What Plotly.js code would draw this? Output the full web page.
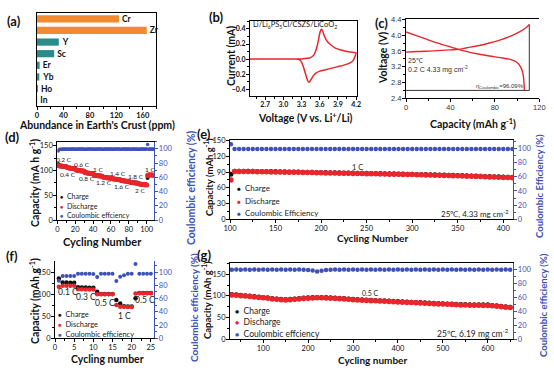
<!DOCTYPE html>
<html><head><meta charset="utf-8">
<script src="https://cdn.plot.ly/plotly-3.0.1.min.js"></script>
<style>html,body{margin:0;padding:0;background:#fff}#chart{width:554px;height:371px}</style>
</head><body><div id="chart"></div>
<script>
// ---------- (a) abundance ----------
const elements = ['Cr','Zr','Y','Sc','Er','Yb','Ho','In'];
const abundance = [124, 166, 33, 26, 4, 3.5, 1.4, 0.3];
const elementGroup = ['o','o','t','t','t','t','t','t'];

// ---------- (b) CV ----------
const cvVoltage = [2.45,2.8,3.1,3.3,3.4,3.45,3.5,3.53,3.56,3.59,3.61,3.63,3.65,3.68,3.72,3.78,3.85,3.95,4.05,4.15,
  4.2,4.18,4.15,4.1,4.0,3.9,3.8,3.7,3.6,3.53,3.48,3.45,3.43,3.41,3.39,3.36,3.33,3.3,3.27,3.2,2.8,2.45];
const cvCurrent = [0,0,0,0.003,0.01,0.02,0.05,0.1,0.18,0.3,0.37,0.4,0.37,0.3,0.24,0.19,0.15,0.12,0.1,0.09,
  0.085,0.03,-0.02,-0.05,-0.08,-0.1,-0.12,-0.14,-0.16,-0.19,-0.24,-0.28,-0.305,-0.3,-0.26,-0.18,-0.1,-0.04,-0.01,0,0,0];

// ---------- (c) charge / discharge ----------
const chgCapC = [0,10,25,40,47,55,65,75,85,92,100,105,108.5,111];
const chgVoltC = [3.57,3.585,3.6,3.625,3.64,3.68,3.73,3.8,3.88,3.95,4.05,4.13,4.2,4.27];
const disCapC = [0,10,25,40,47,55,65,75,85,93,98,101,103,104.8,105.8,106.3,106.6];
const disVoltC = [4.08,3.98,3.83,3.7,3.64,3.58,3.52,3.47,3.43,3.39,3.34,3.28,3.2,3.08,2.93,2.76,2.6];
const cutoffCap = [0,111,111];
const cutoffVolt = [2.6,2.6,4.27];

// ---------- (d) rate test ----------
const rateCharge = [113,110.5,110,109.5,109.5,109,109,108.5,108.5,108,
  107,106,105.5,105.5,105,105,104.5,104.5,104.5,104,
  102,101,100.5,100.5,100,100,99.5,99.5,99.5,99,
  97,96,95.5,95.5,95,95,94.5,94.5,94.5,94,
  92,91,90.5,90.5,90,90,89.5,89.5,89.5,89,
  88,87,86.5,86.5,86,86,85.5,85.5,85.5,85,
  84.5,83.5,83,83,82.5,82.5,82,82,82,81.5,
  81,80,79.5,79.5,79,79,78.5,78.5,78.5,78,
  77.5,76.5,76,76,75.5,75.5,75,75,75,74.5,
  74,73,72.5,72.5,72,72,71.5,71.5,71.5,71,
  85,91.5,91.5,91.5,91.5,91.5,91,91];
const rateDischarge = [110,109.5,109,109,108.5,108.5,108,108,108,107.5,
  106,105.5,105,105,104.5,104.5,104,104,104,103.5,
  101,100.5,100,100,99.5,99.5,99,99,99,98.5,
  96,95.5,95,95,94.5,94.5,94,94,94,93.5,
  91,90.5,90,90,89.5,89.5,89,89,89,88.5,
  87,86.5,86,86,85.5,85.5,85,85,85,84.5,
  83.5,83,82.5,82.5,82,82,81.5,81.5,81.5,81,
  80,79.5,79,79,78.5,78.5,78,78,78,77.5,
  76.5,76,75.5,75.5,75,75,74.5,74.5,74.5,74,
  73,72.5,72,72,71.5,71.5,71,71,71,70.5,
  90,91,91,91,91,91,90.5,90.5];
const rateCE = [97,99.2,99.4,99.5,99.5,99.6,99.5,99.6,99.5,99.6,
  99.3,99.5,99.6,99.5,99.6,99.5,99.6,99.6,99.5,99.6,
  99.3,99.5,99.6,99.5,99.6,99.6,99.5,99.6,99.6,99.5,
  99.3,99.5,99.5,99.6,99.6,99.5,99.6,99.6,99.5,99.6,
  99.3,99.5,99.6,99.5,99.6,99.6,99.5,99.6,99.6,99.5,
  99.3,99.5,99.6,99.6,99.5,99.6,99.6,99.5,99.6,99.6,
  99.3,99.5,99.6,99.5,99.6,99.6,99.5,99.6,99.6,99.5,
  99.3,99.5,99.6,99.6,99.5,99.6,99.6,99.5,99.6,99.6,
  99.3,99.5,99.6,99.5,99.6,99.6,99.5,99.6,99.6,99.5,
  99.3,99.5,99.6,99.6,99.5,99.6,99.6,99.5,99.6,99.6,
  106,99.5,99.6,99.6,99.5,99.6,99.6,99.5];
const rateLabels = ['0.2 C','0.4 C','0.6 C','0.8 C','1 C','1.2 C','1.4 C','1.6 C','1.8 C','2 C','1 C'];
const rateLabelCycle = [8,12,28,33,46,52,68,72,88,93,104];
const rateLabelCap = [123,92,111,84,102,75,93,68,87.5,60.5,102.5];

// ---------- (e) long cycling 1 C ----------
const eCharge = [86,91.6,91.6,91.5,91.4,91.3,91.2,91.1,91,90.9,90.8,
  90.6,90.4,90.3,90.1,90,89.8,89.6,89.5,89.3,89.1,
  89,88.8,88.6,88.5,88.3,88.1,88,87.8,87.6,87.5,
  87.3,87.1,87,86.8,86.6,86.5,86.3,86.1,85.9,85.7,
  85.5,85.3,85.1,84.9,84.7,84.5,84.3,84.1,83.8,83.5,
  83.2,82.9,82.6,82.3,82,81.7,81.4,81.1,80.8,80.5,
  80.2,79.9];
const eDischarge = [75,91,91,91,90.8,90.8,90.6,90.5,90.4,90.3,90.2,
  90,89.8,89.7,89.5,89.4,89.2,89,88.9,88.7,88.5,
  88.4,88.2,88,87.9,87.7,87.5,87.4,87.2,87,86.9,
  86.7,86.5,86.4,86.2,86,85.9,85.7,85.5,85.3,85.1,
  84.9,84.7,84.5,84.3,84.1,83.9,83.6,83.4,83.1,82.8,
  82.5,82.2,81.9,81.6,81.3,81,80.7,80.4,80.1,79.8,
  79.5,79.2];
const eCE = [106,99.2,99.3,99.4,99.3,99.2,99.4,99.3,99.3,99.4,99.2,
  99.3,99.4,99.3,99.2,99.3,99.4,99.3,99.3,99.2,99.4,
  99.3,99.4,99.3,99.2,99.3,99.4,99.3,99.3,99.2,99.4,
  99.3,99.4,99.3,99.2,99.3,99.4,99.3,99.3,99.2,99.4,
  99.3,99.4,99.3,99.2,99.3,99.4,99.3,99.3,99.2,99.4,
  99.3,99.4,99.3,99.2,99.3,99.4,99.3,99.3,99.2,99.4,
  99.3,99.3];

// ---------- (f) rate test 2 ----------
const fCharge = [135.5,126,126,125.5,125.5,115.5,115,115,114.5,114.5,105.5,100.5,100.5,100,100,86.5,79,72.5,72,72,90.5,102.5,102.5,102.5,102.5];
const fDischarge = [116.5,119,119,119,119,111,111,110.5,110.5,110.5,99.5,99.5,99.5,99.5,99.5,75.5,71.5,71.5,71,71,101.5,102,102,102,102];
const fCE = [87,94,94,94,94,97.5,97.5,97.5,97.5,97,92.5,97.5,97.5,97.5,97.5,86.5,93,95,97.5,97.5,112,97.5,97.5,97.5,97.5];
const fLabels = ['0.1 C','0.3 C','0.5 C','1 C','0.5 C'];
const fLabelCycle = [3.3,8.2,13,18,23.6];
const fLabelCap = [105,93,81,51,86.5];

// ---------- (g) long cycling 0.5 C ----------
const gCharge = [103,102.5,101.5,100.5,99.5,98.5,97.5,96.5,95.5,94,
  93,92,91.5,92,93,94,95,95.5,96,96.5,
  96.5,96,95.5,95,94.5,94,93,92,91.5,91,
  90.5,90,89.5,89,88.5,88,87.5,87,86.5,86,
  85.5,85,84.5,84,83.5,83,82.5,82,81.5,81,
  80.5,80,80,79.5,79.5,79.5,79.5,79.5,78,77,
  76,75,74];
const gDischarge = [102,101.5,100.5,99.5,98.5,97.5,96.5,95.5,94.5,93,
  92,91,90.5,91,92,93,94,94.5,95,95.5,
  95.5,95,94.5,94,93.5,93,92,91,90.5,90,
  89.5,89,88.5,88,87.5,87,86.5,86,85.5,85,
  84.5,84,83.5,83,82.5,82,81.5,81,80.5,80,
  79.5,79,79,78.5,78.5,78.5,78,78,77,76,
  75,74,73];
const gCE = [99.4,99.5,99.4,99.5,99.4,99.5,99.4,99.5,99.4,99.5,
  99.4,99.5,99.4,99.5,99.4,99.5,99.3,99,98.2,96.8,
  97.8,98.8,99.4,99.5,99.4,99.5,99.4,99.5,99.4,99.5,
  99.4,99.5,99.4,99.5,99.4,99.5,99.4,99.5,99.4,99.5,
  99.4,99.5,99.4,99.5,99.4,99.5,99.4,99.5,99.4,99.5,
  99.4,99.5,99.4,99.5,99.4,99.5,99.4,99.5,99.4,99.5,
  99.4,99.5,99.4];

// ---------- helpers / layout ----------
function seq(a,b,s){const r=[];for(let v=a;v<=b+1e-9;v+=s)r.push(v);return r;}
const rateCycles = seq(1,108,1);
const eCycles = [101].concat(seq(105,410,5));
const fCycles = seq(1,25,1);
const gCycles = seq(30,650,10);

const W=554,H=371;
const FONT='Lato, "Open Sans", sans-serif';
const ARIAL='"Liberation Sans", Arial, sans-serif';
const RED='#E8262B', BLK='#111111', BLUE='#3D51B8', ORANGE='#F28A30', TEAL='#2A8C88';
const dx=(a,b)=>[a/W,b/W];
const dy=(t,b)=>[1-b/H,1-t/H];
const px=x=>x/W, py=y=>1-y/H;

function ax(o){
  return Object.assign({showline:true,linecolor:'#000',linewidth:1,ticks:'outside',ticklen:3,tickwidth:1,
    tickcolor:'#000',showgrid:false,zeroline:false,fixedrange:true,ticklabelstandoff:-1,
    tickfont:{size:7.5,color:'#111',family:FONT}},o);
}
function minor(d,c){return {ticks:'outside',ticklen:2,dtick:d,tickcolor:c||'#000',showgrid:false};}
function rax(o){
  return ax(Object.assign({side:'right',linecolor:BLUE,tickcolor:BLUE,tickfont:{size:7.5,color:BLUE,family:FONT}},o));
}

const traces=[];
// (a)
traces.push({type:'bar',orientation:'h',x:abundance,y:elements,xaxis:'x',yaxis:'y',
  marker:{color:elementGroup.map(g=>g==='o'?ORANGE:TEAL)},width:0.62,
  text:elements,textposition:'outside',cliponaxis:false,constraintext:'none',
  outsidetextfont:{size:8.5,color:'#111',family:FONT,weight:'bold'},showlegend:false,hoverinfo:'skip'});
// (b)
traces.push({type:'scatter',mode:'lines',x:cvVoltage,y:cvCurrent,xaxis:'x2',yaxis:'y2',
  line:{color:RED,width:1.5,shape:'spline',smoothing:0.5},showlegend:false});
// (c)
traces.push({type:'scatter',mode:'lines',x:cutoffCap,y:cutoffVolt,xaxis:'x3',yaxis:'y3',line:{color:'#333',width:1},showlegend:false});
traces.push({type:'scatter',mode:'lines',x:chgCapC,y:chgVoltC,xaxis:'x3',yaxis:'y3',line:{color:RED,width:1.4,shape:'spline'},showlegend:false});
traces.push({type:'scatter',mode:'lines',x:disCapC,y:disVoltC,xaxis:'x3',yaxis:'y3',line:{color:RED,width:1.4,shape:'spline'},showlegend:false});
// (d)
traces.push({type:'scatter',mode:'markers',x:rateCycles,y:rateCE,xaxis:'x4',yaxis:'y5',marker:{color:BLUE,size:3.5},showlegend:false});
traces.push({type:'scatter',mode:'markers',x:rateCycles,y:rateCharge,xaxis:'x4',yaxis:'y4',marker:{color:BLK,size:4},showlegend:false});
traces.push({type:'scatter',mode:'markers',x:rateCycles,y:rateDischarge,xaxis:'x4',yaxis:'y4',marker:{color:RED,size:5},showlegend:false});
// (e)
traces.push({type:'scatter',mode:'markers',x:eCycles,y:eCE,xaxis:'x5',yaxis:'y7',marker:{color:BLUE,size:4.5},showlegend:false});
traces.push({type:'scatter',mode:'markers',x:eCycles,y:eCharge,xaxis:'x5',yaxis:'y6',marker:{color:BLK,size:5},showlegend:false});
traces.push({type:'scatter',mode:'markers',x:eCycles,y:eDischarge,xaxis:'x5',yaxis:'y6',marker:{color:RED,size:5.5},showlegend:false});
// (f)
traces.push({type:'scatter',mode:'markers',x:fCycles,y:fCE,xaxis:'x6',yaxis:'y9',marker:{color:BLUE,size:4},showlegend:false,cliponaxis:false});
traces.push({type:'scatter',mode:'markers',x:fCycles,y:fCharge,xaxis:'x6',yaxis:'y8',marker:{color:BLK,size:4.5},showlegend:false});
traces.push({type:'scatter',mode:'markers',x:fCycles,y:fDischarge,xaxis:'x6',yaxis:'y8',marker:{color:RED,size:4.5},showlegend:false});
// (g)
traces.push({type:'scatter',mode:'markers',x:gCycles,y:gCE,xaxis:'x7',yaxis:'y11',marker:{color:BLUE,size:4.5},showlegend:false});
traces.push({type:'scatter',mode:'markers',x:gCycles,y:gCharge,xaxis:'x7',yaxis:'y10',marker:{color:BLK,size:5},showlegend:false});
traces.push({type:'scatter',mode:'markers',x:gCycles,y:gDischarge,xaxis:'x7',yaxis:'y10',marker:{color:RED,size:5.5},showlegend:false});

const ann=[];
function A(x,y,text,o){ann.push(Object.assign({xref:'paper',yref:'paper',x:px(x),y:py(y),text:text,showarrow:false,
  xanchor:'center',yanchor:'middle',font:{size:11,color:'#111',family:FONT}},o||{}));}
function T(x,y,text,size,color){A(x,y,'<b>'+text+'</b>',{font:{size:size||11,color:color||'#111',family:FONT}});}
function TV(x,y,text,size,color){A(x,y,'<b>'+text+'</b>',{textangle:-90,font:{size:size||11,color:color||'#111',family:FONT}});}
function L(x,y,text,size,o){A(x,y,text,Object.assign({xanchor:'left',font:{size:size||8,color:'#222',family:FONT}},o||{}));}

// panel labels
[['(a)',14,21],['(b)',216.7,17.5],['(c)',381,22.5],['(d)',12,137],['(e)',204,134],['(f)',11.5,256],['(g)',204,255]]
  .forEach(p=>T(p[1],p[2],p[0],13));

// axis titles
T(97,125,'Abundance in Earth\'s Crust (ppm)',10.5);
TV(231,56,'Current (mA)',10.5);
T(305,117,'Voltage (V vs. Li<sup>+</sup>/Li)',10.5);
TV(383,58,'Voltage (V)',10.5);
T(473,123,'Capacity (mAh g<sup>-1</sup>)',10.5);
TV(34,183,'Capacity (mA h g<sup>-1</sup>)',10.5);
TV(191,188,'Coulombic efficiency (%)',10.5,BLUE);
T(102,241,'Cycling Number',11);
TV(208,177,'Capacity (mAh g<sup>-1</sup>)',9.5);
TV(539,186,'Coulombic Efficiency (%)',9.5,BLUE);
T(372,237.5,'Cycling Number',10);
TV(34,301,'Capacity (mAh g<sup>-1</sup>)',10.5);
TV(194,308,'Coulombic efficiency (%)',10,BLUE);
T(107,359,'Cycling number',10.5);
TV(206,300,'Capacity (mAh g<sup>-1</sup>)',9.5);
TV(543,305,'Coulombic efficiency (%)',9.5,BLUE);
T(372,359.5,'Cycling number',10);

// in-plot notes
L(251,25,'Li/Li<sub>6</sub>PS<sub>5</sub>Cl/CSZS/LiCoO<sub>2</sub>',7.5,{font:{size:7.5,color:'#222',family:FONT}});
L(406,61,'25℃',7,{font:{size:7,color:'#333',family:ARIAL}});
L(406,70,'0.2 C 4.33 mg cm<sup>-2</sup>',7,{font:{size:7,color:'#333',family:ARIAL}});
A(526,86,'η<sub>Coulombic</sub>=96.09%',{xanchor:'right',font:{size:6,color:'#333',family:ARIAL}});
A(511,214,'25℃, 4.33 mg cm<sup>-2</sup>',{xanchor:'right',font:{size:8,color:'#222',family:FONT}});
A(511,333,'25℃, 6.19 mg cm<sup>-2</sup>',{xanchor:'right',font:{size:8.5,color:'#222',family:FONT}});

rateLabels.forEach((t,i)=>ann.push({xref:'x4',yref:'y4',x:rateLabelCycle[i],y:rateLabelCap[i],text:t,showarrow:false,
  font:{size:6.5,color:'#222',family:FONT}}));
fLabels.forEach((t,i)=>ann.push({xref:'x6',yref:'y8',x:fLabelCycle[i],y:fLabelCap[i],text:t,showarrow:false,
  font:{size:8.5,color:'#222',family:FONT}}));
ann.push({xref:'x5',yref:'y6',x:240,y:98.5,text:'1 C',showarrow:false,font:{size:7.5,color:'#222',family:FONT}});
ann.push({xref:'x7',yref:'y10',x:338,y:106,text:'0.5 C',showarrow:false,font:{size:7,color:'#222',family:FONT}});

// legends (marker glyph + label)
function legend(x,ys,labels,size){
  const cols=[BLK,RED,BLUE];
  labels.forEach((l,i)=>L(x,ys[i],'<span style="color:'+cols[i]+';font-size:'+(size-1.5)+'px">●</span>  '+l,size));
}
legend(58,[196,205.7,215],['Charge','Discharge','Coulombic effciency'],7);
legend(235,[188.3,201,213.3],['Charge','Discharge','Coulombic Efficiency'],8);
legend(56,[314.3,324,334.3],['Charge','Discharge','Coulombic efficiency'],7.5);
legend(233,[311,322,334],['Charge','Discharge','Coulombic effciency'],8.5);

const layout={
  width:W,height:H,margin:{l:0,r:0,t:0,b:0},paper_bgcolor:'#fff',plot_bgcolor:'#fff',showlegend:false,
  font:{family:FONT,color:'#111'},
  xaxis:ax({domain:dx(37,156),range:[0,180],dtick:40,tick0:0,mirror:true,minor:minor(20),anchor:'y',
    tickfont:{size:7.5,color:'#111',family:FONT,weight:'bold'}}),
  yaxis:ax({domain:dy(13,106),type:'category',autorange:'reversed',showticklabels:false,ticks:'',mirror:true,anchor:'x'}),
  xaxis2:ax({domain:dx(250,357.3),range:[2.45,4.22],dtick:0.3,tick0:2.7,tickformat:'.1f',mirror:true,minor:minor(0.15),anchor:'y2',
    tickfont:{size:7,color:'#111',family:FONT,weight:'bold'}}),
  yaxis2:ax({domain:dy(20.7,96),range:[-0.49,0.51],dtick:0.2,tick0:0,tickformat:'.1f',mirror:true,minor:minor(0.1),anchor:'x2',
    tickfont:{size:7,color:'#111',family:FONT,weight:'bold'}}),
  xaxis3:ax({domain:dx(406,539.3),range:[0,120],dtick:40,tick0:0,mirror:true,minor:minor(20),anchor:'y3',
    tickfont:{size:7.5,color:'#333',family:ARIAL}}),
  yaxis3:ax({domain:dy(19.3,98.3),range:[2.4,4.4],dtick:0.4,tick0:2.4,tickformat:'.1f',minor:minor(0.2),anchor:'x3',
    tickfont:{size:7.5,color:'#333',family:ARIAL}}),
  xaxis4:ax({domain:dx(57.3,154.3),range:[0,108.5],dtick:20,tick0:0,mirror:true,minor:minor(10),anchor:'y4'}),
  yaxis4:ax({domain:dy(141.7,220),range:[0,158],dtick:50,tick0:0,minor:minor(25),anchor:'x4'}),
  yaxis5:rax({overlaying:'y4',anchor:'x4',range:[0,110],dtick:20,tick0:0,minor:minor(10,BLUE)}),
  xaxis5:ax({domain:dx(230,513.3),range:[100,411],dtick:50,tick0:100,mirror:true,minor:minor(25),anchor:'y6'}),
  yaxis6:ax({domain:dy(140,219.3),range:[0,151],dtick:30,tick0:0,minor:minor(15),anchor:'x5'}),
  yaxis7:rax({overlaying:'y6',anchor:'x5',range:[0,112],dtick:20,tick0:0,minor:minor(10,BLUE)}),
  xaxis6:ax({domain:dx(55,154.3),range:[0,25.9],dtick:5,tick0:0,minor:minor(2.5),anchor:'y8'}),
  yaxis8:ax({domain:dy(261.4,338.3),range:[0,174],dtick:50,tick0:0,minor:minor(25),anchor:'x6'}),
  yaxis9:rax({overlaying:'y8',anchor:'x6',range:[0,116],dtick:20,tick0:0,minor:minor(10,BLUE)}),
  xaxis7:ax({domain:dx(230,513.3),range:[26,657],dtick:100,tick0:0,mirror:true,minor:minor(50),anchor:'y10'}),
  yaxis10:ax({domain:dy(263.3,339.3),range:[0,175],dtick:50,tick0:0,minor:minor(25),anchor:'x7'}),
  yaxis11:rax({overlaying:'y10',anchor:'x7',range:[0,108.5],dtick:20,tick0:0,minor:minor(10,BLUE)}),
  annotations:ann
};
Plotly.newPlot('chart',traces,layout,{staticPlot:true,displayModeBar:false});
</script></body></html>
